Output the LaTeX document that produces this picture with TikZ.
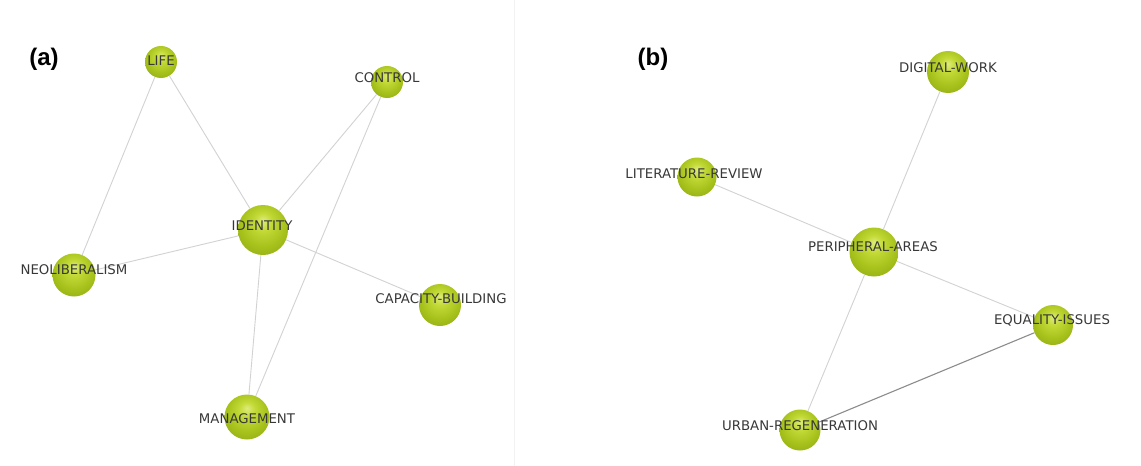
\documentclass[tikz,border=0pt]{standalone}
\usepackage{fontspec}
\setmainfont{DejaVu Sans}
\newfontfamily\panelfont{Liberation Sans}
\definecolor{ballhi}{HTML}{DDEC7A}
\definecolor{ballmid}{HTML}{C2D936}
\definecolor{ballbody}{HTML}{A8C21C}
\definecolor{balllo}{HTML}{8CA812}
\definecolor{balledge}{HTML}{6C880A}
\definecolor{labelgray}{HTML}{383838}
\definecolor{edgegray}{HTML}{D2D2D2}
\definecolor{edgedark}{HTML}{8C8C8C}
% soft highlight a little above the centre of each ball
\pgfdeclareradialshading{greenball}{\pgfpoint{0bp}{10bp}}{%
  color(0bp)=(ballhi);
  color(9bp)=(ballmid);
  color(22bp)=(ballbody);
  color(36bp)=(balllo);
  color(48bp)=(balledge);
  color(50bp)=(balledge)}
\tikzset{
  ball/.style={circle, minimum size=#1, inner sep=0pt, shading=greenball},
  kw/.style={font=\fontsize{13.3}{14}\selectfont, text=labelgray, inner sep=0pt},
  link/.style={draw=edgegray, line width=0.9pt},
  strong/.style={draw=edgedark, line width=1.1pt},
  panel/.style={font=\panelfont\bfseries\fontsize{24}{26}\selectfont, inner sep=0pt}
}
\begin{document}
\begin{tikzpicture}[x=1pt, y=-1pt]
\useasboundingbox (0,0) rectangle (1141,466);
\fill[white] (0,0) rectangle (1141,466);
\draw[draw=black!5, line width=0.6pt] (514,0) -- (514,466);

% panel (a)
\node[panel] (pa) at (44,59) {(a)};
\node[ball=32pt] (life) at (161,62) {};
\node[ball=32pt] (control) at (387,82) {};
\node[ball=50pt] (identity) at (263,230) {};
\node[ball=43pt] (neolib) at (74,275) {};
\node[ball=42pt] (capacity) at (440,305) {};
\node[ball=45pt] (management) at (247,417) {};

% panel (b)
\node[panel] (pb) at (653,59) {(b)};
\node[ball=42pt] (digital) at (948,72) {};
\node[ball=39pt] (literature) at (697,177) {};
\node[ball=49pt] (peripheral) at (874,252) {};
\node[ball=40pt] (equality) at (1053,325) {};
\node[ball=41pt] (urban) at (800,430) {};

% connectors between the balls
\path[link] (life) -- (neolib);
\path[link] (life) -- (identity);
\path[link] (control) -- (identity);
\path[link] (control) -- (management);
\path[link] (identity) -- (neolib);
\path[link] (identity) -- (capacity);
\path[link] (identity) -- (management);
\path[link] (digital) -- (peripheral);
\path[link] (literature) -- (peripheral);
\path[link] (peripheral) -- (equality);
\path[link] (peripheral) -- (urban);
\path[strong] (urban) -- (equality);

% keyword labels
\node[kw] (tlife) at (161,61) {LIFE};
\node[kw] (tcontrol) at (387,78) {CONTROL};
\node[kw] (tidentity) at (262,226) {IDENTITY};
\node[kw] (tneolib) at (74,270) {NEOLIBERALISM};
\node[kw] (tcapacity) at (441,299) {CAPACITY-BUILDING};
\node[kw] (tmanagement) at (247,419) {MANAGEMENT};
\node[kw] (tdigital) at (948,68) {DIGITAL-WORK};
\node[kw] (tliterature) at (694,174) {LITERATURE-REVIEW};
\node[kw] (tperipheral) at (873,247) {PERIPHERAL-AREAS};
\node[kw] (tequality) at (1052,320) {EQUALITY-ISSUES};
\node[kw] (turban) at (800,426) {URBAN-REGENERATION};
\end{tikzpicture}
\end{document}
